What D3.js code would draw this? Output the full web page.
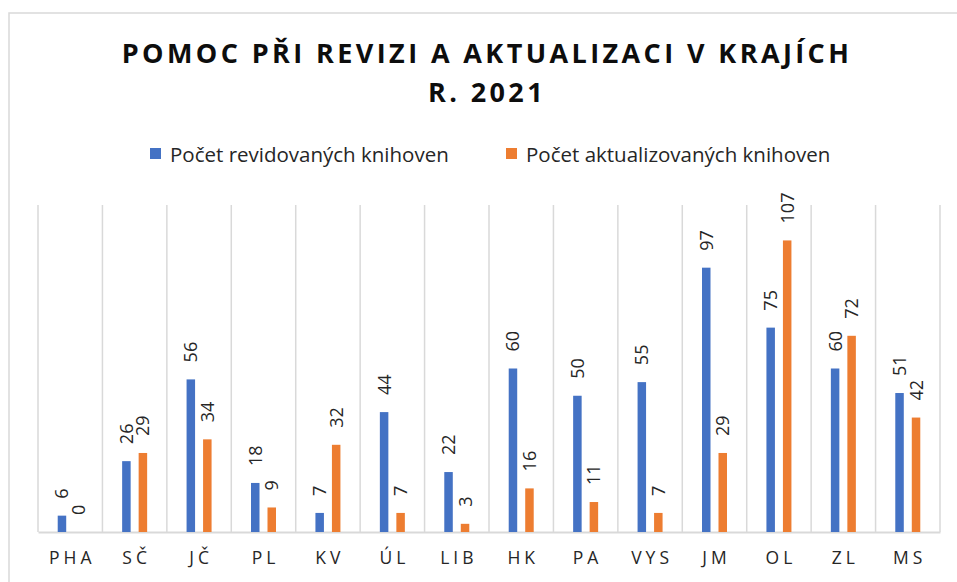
<!DOCTYPE html>
<html>
<head>
<meta charset="utf-8">
<script src="https://cdn.jsdelivr.net/npm/d3@7"></script>
<style>
  body { margin: 0; background: #fff; }
  svg { display: block; font-family: "Open Sans", sans-serif; }
</style>
</head>
<body>
<svg id="chart"></svg>
<script>
// data
const regions = ['PHA', 'SČ', 'JČ', 'PL', 'KV', 'ÚL', 'LIB', 'HK', 'PA', 'VYS', 'JM', 'OL', 'ZL', 'MS'];
const revidovane = [6, 26, 56, 18, 7, 44, 22, 60, 50, 55, 97, 75, 60, 51];
const aktualizovane = [0, 29, 34, 9, 32, 7, 3, 16, 11, 7, 29, 107, 72, 42];
const seriesNames = ['Počet revidovaných knihoven', 'Počet aktualizovaných knihoven'];
const titleLines = ['POMOC PŘI REVIZI A AKTUALIZACI V KRAJÍCH', 'R. 2021'];

const colors = ['#4472C4', '#ED7D31'];

const width = 957, height = 582;
const margin = {top: 205, right: 17, bottom: 50, left: 38};

const svg = d3.select('#chart')
    .attr('width', width)
    .attr('height', height);

// chart frame
svg.append('rect')
    .attr('x', 9).attr('y', 13)
    .attr('width', 1000).attr('height', 700)
    .attr('fill', 'none')
    .attr('stroke', '#d9d9d9')
    .attr('stroke-width', 1.5);

const innerW = width - margin.left - margin.right;
const innerH = height - margin.top - margin.bottom;

const chart = svg.append('g')
    .attr('transform', `translate(${margin.left}, ${margin.top})`);

const x0 = d3.scaleBand().domain(regions).range([0, innerW]);
const x1 = d3.scaleBand().domain([0, 1])
    .range([x0.bandwidth() / 2 - 12.5, x0.bandwidth() / 2 + 12.5])
    .paddingInner(0.485);
const y = d3.scaleLinear().domain([0, 120]).range([innerH, 0]);

// vertical gridlines between categories
const bounds = regions.map(r => x0(r)).concat([innerW]);
chart.selectAll('.grid')
    .data(bounds)
    .join('line')
    .attr('x1', d => d).attr('x2', d => d)
    .attr('y1', 0).attr('y2', innerH)
    .attr('stroke', '#d9d9d9')
    .attr('stroke-width', 1.5);

// x axis
const xaxis = d3.axisBottom(x0).tickSize(0).tickPadding(20);
const xg = chart.append('g')
    .attr('transform', `translate(0, ${innerH})`)
    .call(xaxis);
xg.select('.domain').attr('stroke', '#d9d9d9').attr('stroke-width', 2);
xg.selectAll('text')
    .attr('font-family', '"Open Sans", sans-serif')
    .attr('font-size', 17.5)
    .attr('fill', '#262626')
    .style('letter-spacing', '4px')
    .attr('dx', 2);

// bars
const rows = regions.map((r, i) => ({region: r, vals: [revidovane[i], aktualizovane[i]]}));
const groups = chart.selectAll('.grp')
    .data(rows)
    .join('g')
    .attr('transform', d => `translate(${x0(d.region)}, 0)`);

groups.selectAll('rect')
    .data(d => d.vals.map((v, k) => ({k, v})))
    .join('rect')
    .attr('x', d => x1(d.k))
    .attr('width', x1.bandwidth())
    .attr('y', d => y(d.v))
    .attr('height', d => innerH - y(d.v))
    .attr('fill', d => colors[d.k]);

groups.selectAll('text')
    .data(d => d.vals.map((v, k) => ({k, v})))
    .join('text')
    .attr('transform', d => `translate(${x1(d.k) + x1.bandwidth() / 2}, ${y(d.v) - 17}) rotate(-90)`)
    .attr('dy', '0.36em')
    .attr('font-size', 18)
    .attr('fill', '#262626')
    .text(d => d.v);

// title
svg.selectAll('.title')
    .data(titleLines)
    .join('text')
    .attr('x', 487)
    .attr('y', (d, i) => 63 + i * 39)
    .attr('text-anchor', 'middle')
    .attr('font-size', 27)
    .attr('font-weight', 'bold')
    .attr('fill', '#0d0d0d')
    .style('letter-spacing', '3.4px')
    .text(d => d);

// legend
const legendX = [150, 506];
const legend = svg.selectAll('.leg')
    .data(seriesNames)
    .join('g')
    .attr('transform', (d, i) => `translate(${legendX[i]}, 155)`);
legend.append('rect')
    .attr('x', 0).attr('y', -7)
    .attr('width', 11).attr('height', 11)
    .attr('fill', (d, i) => colors[i]);
legend.append('text')
    .attr('x', 20)
    .attr('y', 0)
    .attr('dy', '0.33em')
    .attr('font-size', 20.5)
    .attr('fill', '#262626')
    .text(d => d);
</script>
</body>
</html>
